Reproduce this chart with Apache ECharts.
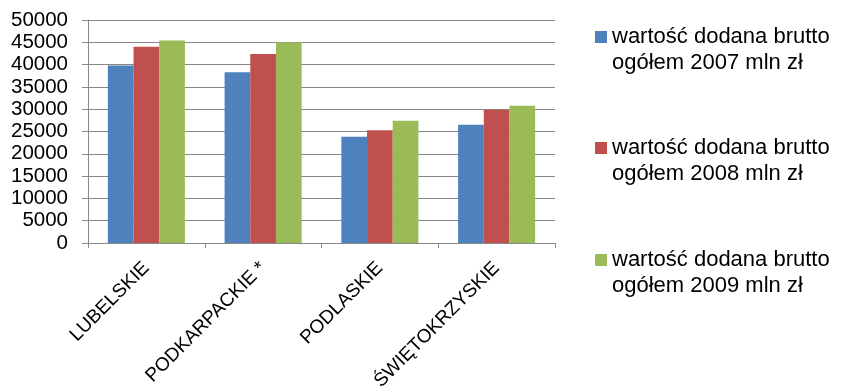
<!DOCTYPE html>
<html>
<head>
<meta charset="utf-8">
<script src="https://cdn.jsdelivr.net/npm/echarts@6/dist/echarts.min.js"></script>
<style>
  html, body { margin: 0; padding: 0; background: #fff; }
  #chart { width: 841px; height: 390px; }
</style>
</head>
<body>
<div id="chart"></div>
<script>
// Regions (voivodeships)
const regions = ['LUBELSKIE', 'PODKARPACKIE *', 'PODLASKIE', 'ŚWIĘTOKRZYSKIE'];

// Gross value added, total, mln zł
const gva2007 = [39800, 38300, 23800, 26500];
const gva2008 = [44000, 42400, 25300, 29900];
const gva2009 = [45400, 45000, 27400, 30800];

const seriesNames = [
  'wartość dodana brutto\nogółem 2007 mln zł',
  'wartość dodana brutto\nogółem 2008 mln zł',
  'wartość dodana brutto\nogółem 2009 mln zł'
];

const colors = ['#4F81BD', '#C0504D', '#9BBB59'];
const FONT = 'Liberation Sans, Arial, sans-serif';

// Legend marker: a 12px square sitting at the top of a 12x38 box,
// so it lines up with the first line of the two-line label.
const legendIcon = 'path://M0,0L12,0L12,12L0,12Z M0,38L0,38';

const chart = echarts.init(document.getElementById('chart'), null, { renderer: 'canvas' });

const legendTops = [24, 135, 247];

chart.setOption({
  animation: false,
  color: colors,
  textStyle: { fontFamily: FONT, color: '#000' },
  grid: { left: 88, right: 286, top: 20, bottom: 147, outerBoundsMode: 'none', containLabel: false },
  legend: seriesNames.map((name, i) => ({
    data: [name],
    orient: 'vertical',
    left: 595,
    top: legendTops[i],
    padding: 0,
    icon: legendIcon,
    itemWidth: 12,
    itemHeight: 38,
    itemGap: 0,
    selectedMode: false,
    textStyle: {
      fontFamily: FONT,
      fontSize: 22,
      color: '#000',
      lineHeight: 26
    }
  })),
  xAxis: {
    type: 'category',
    data: regions,
    axisLine: { lineStyle: { color: '#888888', width: 1 } },
    axisTick: { show: true, length: 5, lineStyle: { color: '#888888' } },
    axisLabel: {
      rotate: 45,
      interval: 0,
      margin: 22,
      fontFamily: FONT,
      fontSize: 19,
      color: '#000',
      verticalAlign: 'middle'
    }
  },
  yAxis: {
    type: 'value',
    min: 0,
    max: 50000,
    interval: 5000,
    axisLine: { show: true, lineStyle: { color: '#888888', width: 1 } },
    axisTick: { show: true, length: 6, lineStyle: { color: '#888888' } },
    axisLabel: {
      margin: 20,
      fontFamily: FONT,
      fontSize: 20.5,
      color: '#000',
      formatter: v => String(v)
    },
    splitLine: { show: true, lineStyle: { color: '#888888', width: 1 } }
  },
  series: [gva2007, gva2008, gva2009].map((vals, i) => ({
    name: seriesNames[i],
    type: 'bar',
    data: vals,
    barGap: '0%',
    barCategoryGap: '34%'
  }))
});
</script>
</body>
</html>
